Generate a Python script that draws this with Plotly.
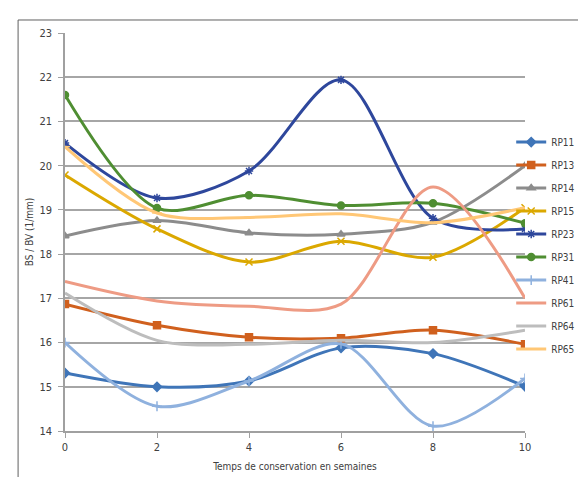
import plotly.graph_objects as go

weeks = [0, 2, 4, 6, 8, 10]
series_names = ["RP11", "RP13", "RP14", "RP15", "RP23", "RP31", "RP41", "RP61", "RP64", "RP65"]
rp11 = [15.31, 15.0, 15.13, 15.88, 15.75, 15.01]
rp13 = [16.87, 16.39, 16.12, 16.1, 16.28, 15.96]
rp14 = [18.41, 18.76, 18.48, 18.45, 18.72, 20.0]
rp15 = [19.79, 18.57, 17.82, 18.29, 17.93, 19.05]
rp23 = [20.51, 19.27, 19.88, 21.94, 18.81, 18.57]
rp31 = [21.6, 19.04, 19.33, 19.1, 19.15, 18.7]
rp41 = [16.0, 14.56, 15.13, 15.97, 14.11, 15.19]
rp61 = [17.38, 16.94, 16.82, 16.87, 19.52, 17.0]
rp64 = [17.12, 16.05, 15.96, 16.05, 16.0, 16.28]
rp65 = [20.43, 18.93, 18.83, 18.91, 18.71, 19.05]
values = [rp11, rp13, rp14, rp15, rp23, rp31, rp41, rp61, rp64, rp65]
colors = ["#3F75B8", "#D0601E", "#8C8C8C", "#DBA800", "#2E479C",
          "#4F8E32", "#8FB1DE", "#EE9B84", "#BDBDBD", "#FFC776"]
symbols = ["diamond", "square", "triangle-up", "x-thin", "asterisk",
           "circle", "cross-thin", None, None, "line-ew"]

font = "DejaVu Sans Condensed, Liberation Sans Narrow, sans-serif"

fig = go.Figure()
for i, (name, vals) in enumerate(zip(series_names, values)):
    sym = symbols[i]
    mode = "lines+markers" if sym else "lines"
    marker = dict(symbol=sym, size=7, color=colors[i],
                  line=dict(color=colors[i], width=1.5)) if sym else None
    fig.add_trace(go.Scatter(
        x=weeks, y=vals, name=name, mode=mode,
        line=dict(color=colors[i], width=3, shape="spline", smoothing=0.9),
        marker=marker, legendgroup=name,
    ))

fig.update_layout(
    width=586, height=477,
    margin=dict(l=57, r=69, t=25, b=54, autoexpand=False),
    paper_bgcolor="white", plot_bgcolor="white",
    font=dict(family=font, size=11, color="#404040"),
    showlegend=True,
    legend=dict(x=0.97, y=0.7625, xanchor="left", yanchor="top",
                font=dict(size=10, color="#404040"),
                tracegroupgap=4, itemwidth=30,
                bgcolor="rgba(0,0,0,0)"),
    xaxis=dict(range=[0, 10], tickvals=[0, 2, 4, 6, 8, 10], showgrid=False,
               zeroline=False, showline=True, linecolor="#A0A0A0", linewidth=1.5,
               ticks="outside", ticklen=5, tickcolor="#A0A0A0",
               tickfont=dict(size=11),
               title=dict(text="Temps de conservation en semaines", font=dict(size=10), standoff=10)),
    yaxis=dict(range=[14, 23], dtick=1, showgrid=True, gridcolor="#A6A6A6", gridwidth=1.5,
               zeroline=False, showline=True, linecolor="#A0A0A0", linewidth=1.5,
               ticks="outside", ticklen=5, tickcolor="#A0A0A0",
               tickfont=dict(size=11), ticklabelstandoff=4,
               title=dict(text="BS / BV (1/mm)", font=dict(size=10), standoff=4)),
    shapes=[dict(type="rect", xref="paper", yref="paper",
                 x0=-0.102, x1=1.2, y0=-0.2, y1=1.0327,
                 line=dict(color="#606060", width=1), fillcolor="rgba(0,0,0,0)", layer="below")],
)

fig.write_html("out.html")
